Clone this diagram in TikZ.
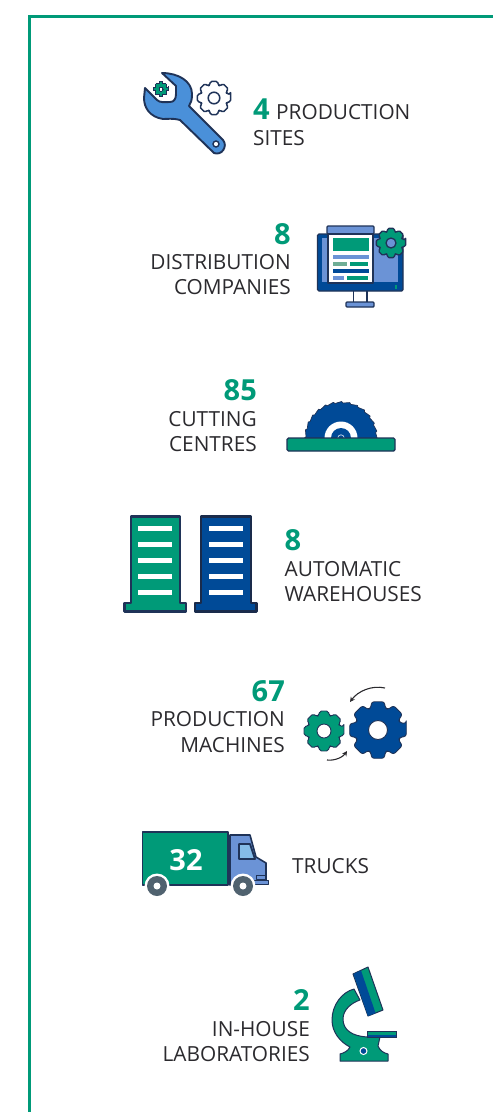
\documentclass[tikz,border=0pt]{standalone}
\usepackage{fontspec}
\setmainfont{Open Sans}
\usetikzlibrary{arrows.meta}
\definecolor{brandgreen}{HTML}{009A78}
\definecolor{brandblue}{HTML}{004A97}
\definecolor{navy}{HTML}{1F3358}
\definecolor{lightblue}{HTML}{6B93D6}
\definecolor{wrenchblue}{HTML}{4A90D9}
\definecolor{skyblue}{HTML}{85BCE8}
\definecolor{palegreen}{HTML}{6FAE96}
\definecolor{inkgray}{HTML}{2B2A2E}
\definecolor{wheelgray}{HTML}{50626F}
\tikzset{
  lab/.style={font=\fontsize{20.8}{22}\selectfont,text=inkgray,inner sep=0pt},
  num/.style={font=\fontsize{29}{30}\selectfont\bfseries,text=brandgreen,inner sep=0pt},
  shapeline/.style={draw=navy,line width=1.4pt,line join=round},
}
% x, y, R, r, hole, fill, hole fill, line width
\newcommand\gearicon[8]{%
  \begin{scope}[shift={(#1,#2)}]
    \pgfmathsetmacro\gearround{#3*0.09}
    \draw[draw=navy,fill=#6,line width=#8pt,line join=round,rounded corners=\gearround pt]
      ({-13}:#3) \foreach \a in {0,45,...,315}{ -- ({\a-13}:#3) -- ({\a+13}:#3) -- ({\a+18}:#4) -- ({\a+27}:#4)} -- cycle;
    \draw[draw=navy,fill=#7,line width=#8pt] (0,0) circle[radius=#5];
  \end{scope}}
\begin{document}
\begin{tikzpicture}[x=1pt,y=-1pt]
\useasboundingbox (0,0) rectangle (493,1112);
% frame
\draw[draw=brandgreen,line width=2.6pt,line cap=butt] (29.3,1112) -- (29.3,16.6) -- (493,16.6);

% 1 wrench
\draw[shapeline,fill=wrenchblue,line width=1.9pt]
  (145,88) -- (157,100) .. controls (160,103) and (165,102) .. (170,102)
  .. controls (174,102) and (176,99) .. (176,94) -- (176,86) -- (162,73)
  .. controls (178,73) and (192,81) .. (192,94) .. controls (192,100) and (191,103) .. (189,106)
  -- (223,140) .. controls (228,146) and (222,156) .. (214,153) -- (180,120)
  .. controls (172,118) and (168,119) .. (163,119) .. controls (150,117) and (144,108) .. (144,98) -- cycle;
\draw[draw=navy,fill=white,line width=1.4pt] (216,144) circle[radius=3];
\gearicon{214}{98}{17}{13.5}{5.8}{white}{white}{1.5}
\gearicon{161}{89}{7.5}{5.7}{2}{brandgreen}{white}{0}
\node[num,anchor=base west] (n1) at (253,119) {4};
\node[lab,anchor=base west] (t1a) at (276,119) {PRODUCTION};
\node[lab,anchor=base west] (t1b) at (253,145) {SITES};

% 2 monitor
\draw[shapeline,fill=brandblue,rounded corners=1.5pt] (317.5,234) rectangle (403,291);
\fill[lightblue] (322,238) rectangle (398,282);
\draw[shapeline,fill=lightblue,rounded corners=1pt] (327,226) rectangle (374,234);
\draw[shapeline,fill=white] (328,234) rectangle (373,283);
\fill[brandgreen] (333,238) rectangle (369,251);
\fill[lightblue] (333,255) rectangle (369,259);
\fill[palegreen] (333,262) rectangle (347,266);
\fill[brandgreen] (350,262) rectangle (368,266);
\fill[brandblue] (333,269) rectangle (369,273);
\fill[lightblue] (333,276) rectangle (344,280);
\fill[brandgreen] (347,276) rectangle (368,280);
\gearicon{391}{243}{15}{11.8}{5}{brandgreen}{lightblue}{1.3}
\fill[brandgreen] (395,285) rectangle (397,289);
\draw[draw=navy,line width=1.4pt] (353.5,291) -- (353.5,302) (367,291) -- (367,302);
\draw[shapeline,fill=lightblue,rounded corners=1pt] (346,302) rectangle (374,307);
\node[num,anchor=base east] (n2) at (291,244) {8};
\node[lab,anchor=base east] (t2a) at (291,269) {DISTRIBUTION};
\node[lab,anchor=base east] (t2b) at (291,294) {COMPANIES};

% 3 saw
\begin{scope}
  \clip (290,395) rectangle (395,438);
  \begin{scope}[shift={(341,438)}]
    \draw[draw=navy,fill=brandblue,line width=0.7pt,line join=round]
      (-180:36.5) \foreach \a in {-180,-167,...,-11}{ -- ({\a+2}:35) -- ({\a+13}:36.5)} -- cycle;
    \fill[white] (0,0) circle[radius=16.5];
    \fill[brandblue] (0,0) circle[radius=10];
    \draw[draw=white!70!brandblue,line width=0.8pt] (0,0) circle[radius=3.2];
  \end{scope}
\end{scope}
\draw[shapeline,fill=brandgreen,rounded corners=1.5pt] (287,438) rectangle (395,451);
\node[num,anchor=base east] (n3) at (257,400) {85};
\node[lab,anchor=base east] (t3a) at (257,426) {CUTTING};
\node[lab,anchor=base east] (t3b) at (257,451) {CENTRES};

% 4 warehouses
\draw[shapeline,fill=brandgreen,line width=2.6pt]
  (131,516.5) -- (180,516.5) -- (180,603) -- (186,603) -- (186,611.5) -- (124.5,611.5) -- (124.5,603) -- (131,603) -- cycle;
\draw[draw=navy!85!black,fill=brandblue,line width=2.8pt,line join=round]
  (201,516.5) -- (251,516.5) -- (251,603) -- (256.5,603) -- (256.5,611.5) -- (195,611.5) -- (195,603) -- (201,603) -- cycle;
\foreach \yy in {526,542,558,574,590}{
  \fill[white] (138,\yy) rectangle (172,\yy+5);
  \fill[white] (209,\yy) rectangle (243,\yy+5);
}
\node[num,anchor=base west] (n4) at (284.5,550) {8};
\node[lab,anchor=base west] (t4a) at (284.5,576) {AUTOMATIC};
\node[lab,anchor=base west] (t4b) at (284.5,601) {WAREHOUSES};

% 5 gears
\gearicon{324}{731}{20.5}{16.3}{7}{brandgreen}{white}{0.9}
\gearicon{378}{730}{29}{23}{9.5}{brandblue}{white}{0.9}
\coordinate (a1s) at (385,688);
\coordinate (a1e) at (350,702);
\coordinate (a2s) at (327,760);
\coordinate (a2e) at (347,751);
\draw[draw=inkgray,line width=1.1pt,-{Stealth[length=5pt,width=5pt]}] (a1s) .. controls (372,685) and (358,691) .. (a1e);
\draw[draw=inkgray,line width=1.1pt,-{Stealth[length=5pt,width=5pt]}] (a2s) .. controls (335,761) and (343,757) .. (a2e);
\node[num,anchor=base east] (n5) at (285,701) {67};
\node[lab,anchor=base east] (t5a) at (285,726) {PRODUCTION};
\node[lab,anchor=base east] (t5b) at (285,752) {MACHINES};

% 6 truck
\draw[shapeline,fill=lightblue,line width=1.6pt]
  (230,835) -- (250,835) -- (256,857) -- (266,863) -- (266,881) -- (230,885) -- cycle;
\draw[shapeline,fill=skyblue,line width=1.8pt] (239,844) -- (250,844) -- (255,859) -- (239,859) -- cycle;
\draw[shapeline,fill=lightblue,line width=1pt] (256,875) rectangle (265,879);
\draw[shapeline,fill=lightblue,line width=1pt] (250,880) rectangle (268,884);
\draw[shapeline,fill=brandgreen,line width=1.6pt] (142.5,832) rectangle (228,885);
\node[font=\fontsize{29}{30}\selectfont\bfseries,text=white,inner sep=0pt,anchor=base] (n6) at (186,870) {32};
\foreach \wx in {157,243}{
  \fill[white] (\wx,886) circle[radius=12.5];
  \fill[wheelgray] (\wx,886) circle[radius=10];
  \fill[white] (\wx,886) circle[radius=3.5];
}
\node[lab,anchor=base west] (t6) at (292,873) {TRUCKS};

% 7 microscope
\draw[shapeline,fill=brandgreen,line width=1pt]
  (354,989) .. controls (342,992) and (332,1005) .. (332,1020)
  .. controls (332,1032) and (340,1042) .. (350,1047)
  .. controls (348,1051) and (344,1053) .. (340,1054) -- (340,1061) -- (388,1061) -- (388,1054)
  .. controls (384,1053) and (380,1051) .. (378,1046)
  -- (380,1037) -- (367,1037)
  .. controls (352,1036) and (343,1030) .. (343,1019)
  .. controls (343,1010) and (351,1003) .. (360,1000) -- cycle;
\draw[draw=navy,fill=brandgreen,line width=1pt,line join=round] (353,974) -- (368,967) -- (383,1010) -- (368,1016) -- cycle;
\fill[brandblue] (353.5,974) -- (361,970.5) -- (375.5,1013) -- (368,1016) -- cycle;
\draw[draw=navy,fill=brandgreen,line width=1pt] (367,1031) rectangle (396,1037);
\fill[brandblue] (367.5,1034.5) rectangle (395.5,1036.5);
\draw[draw=white,fill=brandblue,line width=1pt] (363.5,1051) circle[radius=3.5];
\node[num,anchor=base east] (n7) at (310,1010) {2};
\node[lab,anchor=base east] (t7a) at (310,1036) {IN-HOUSE};
\node[lab,anchor=base east] (t7b) at (310,1061) {LABORATORIES};
\end{tikzpicture}
\end{document}
